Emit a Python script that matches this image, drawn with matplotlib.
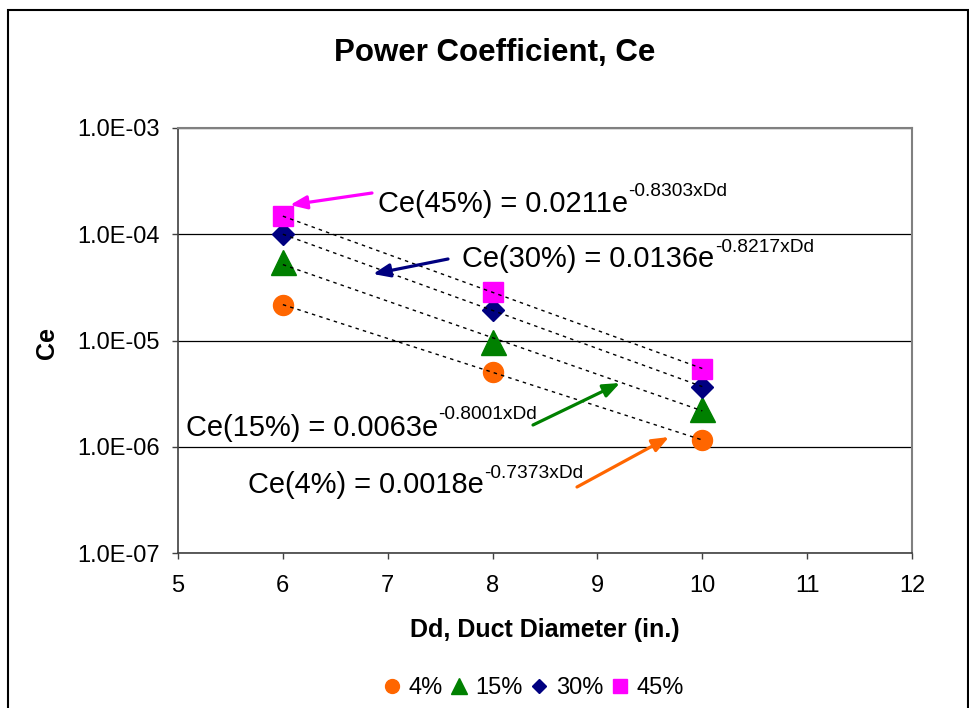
import numpy as np
import matplotlib
matplotlib.use("Agg")
import matplotlib.pyplot as plt
from matplotlib.lines import Line2D
from matplotlib.patches import Rectangle
from matplotlib.ticker import LogLocator, FuncFormatter, NullLocator

plt.rcParams['font.family'] = ['Liberation Sans', 'DejaVu Sans']

# ---- data ----
dd = [6, 8, 10]
series_names = ["4%", "15%", "30%", "45%"]
ce_4 = [2.18e-5, 5.0e-6, 1.16e-6]
ce_15 = [5.45e-5, 9.6e-6, 2.29e-6]
ce_30 = [1.0e-4, 1.92e-5, 3.68e-6]
ce_45 = [1.48e-4, 2.84e-5, 5.45e-6]
eq_main = ["Ce(4%) = 0.0018e", "Ce(15%) = 0.0063e", "Ce(30%) = 0.0136e", "Ce(45%) = 0.0211e"]
eq_exp = ["-0.7373xDd", "-0.8001xDd", "-0.8217xDd", "-0.8303xDd"]

W, H = 970, 708
fig = plt.figure(figsize=(W / 100, H / 100), dpi=100)
fig.patch.set_facecolor('white')

def fx(x):
    return x / W

def fy(y):
    return 1 - y / H

# chart border
fig.patches.append(Rectangle((fx(8), fy(718)), fx(968) - fx(8), fy(10) - fy(718),
                             transform=fig.transFigure, fill=False, edgecolor='black', lw=1.5))

ax = fig.add_axes([fx(178), fy(553), fx(912) - fx(178), fy(128) - fy(553)])
ax.set_yscale('log')
ax.set_xlim(5, 12)
ax.set_ylim(1e-7, 1e-3)

colors = ['#FF6600', '#008000', '#000080', '#FF00FF']
markers = ['o', '^', 'D', 's']
msizes = [14.4, 18, 11.2, 14.4]
leg_ms = [10, 11.5, 7.6, 9.6]
all_series = [ce_4, ce_15, ce_30, ce_45]

for ys, c, m, ms in zip(all_series, colors, markers, msizes):
    ax.plot(dd, ys, linestyle='none', marker=m, markersize=ms, color=c,
            markeredgecolor=c, zorder=3)
    k, b = np.polyfit(dd, np.log(ys), 1)
    xx = np.linspace(dd[0], dd[-1], 100)
    ax.plot(xx, np.exp(b + k * xx), color='black', lw=1.0,
            linestyle=(0, (2.5, 3.0)), zorder=4)

# axes styling
ax.yaxis.set_major_locator(LogLocator(base=10, numticks=10))
ax.yaxis.set_minor_locator(NullLocator())
ax.yaxis.set_major_formatter(FuncFormatter(lambda v, p: f"{v:.1E}"))
ax.set_xticks(range(5, 13))
ax.grid(axis='y', which='major', color='#000000', lw=0.9)
ax.grid(axis='x', visible=False)
ax.set_axisbelow(True)
for s in ['top', 'right']:
    ax.spines[s].set_color('#808080')
    ax.spines[s].set_linewidth(1.5)
for s in ['left', 'bottom']:
    ax.spines[s].set_color('#404040')
    ax.spines[s].set_linewidth(1.2)
ax.tick_params(axis='both', which='major', direction='out', length=4.5, width=1,
               color='#404040', labelsize=17)
ax.tick_params(axis='x', pad=11)
ax.tick_params(axis='y', pad=8.5)

ax.set_xlabel("Dd, Duct Diameter (in.)", fontsize=18, fontweight='bold')
ax.xaxis.label.set_va('baseline')
ax.xaxis.set_label_coords((544.5 - 178) / 734, -(637 - 553) / 425)
ax.set_ylabel("Ce", fontsize=18, fontweight='bold')
ax.yaxis.label.set_va('center')
ax.yaxis.set_label_coords((47 - 178) / 734, (553 - 343) / 425)

fig.text(fx(495), fy(61), "Power Coefficient, Ce", ha='center', va='baseline',
         fontsize=22.5, fontweight='bold')

# equations: (left, baseline, superscript baseline) in top-based pixels
eq_pos = [(248, 493, 478), (186, 436, 419), (462, 267, 252), (378, 212, 196.5)]
main_texts = []
for txt, (x, y, ys) in zip(eq_main, eq_pos):
    t = fig.text(fx(x), fy(y), txt, ha='left', va='baseline', fontsize=20.9)
    main_texts.append(t)

# arrows tail -> head (top-based pixels)
arrows = [((577, 487), (669, 437)), ((533, 425), (620, 383)),
          ((448, 259), (373, 274)), ((372, 193), (290, 205))]
for (tail, head), c in zip(arrows, colors):
    fig.add_artist(matplotlib.patches.FancyArrowPatch(
        (fx(tail[0]), fy(tail[1])), (fx(head[0]), fy(head[1])),
        transform=fig.transFigure, arrowstyle='-|>,head_length=0.5,head_width=0.2',
        mutation_scale=20, lw=2.3, color=c, shrinkA=0, shrinkB=0))

# legend
handles = [Line2D([], [], linestyle='none', marker=m, markersize=s, color=c,
                  markeredgecolor=c) for m, s, c in zip(markers, leg_ms, colors)]
fig.legend(handles, series_names, loc='center', bbox_to_anchor=(fx(533), fy(688)),
           ncol=4, frameon=False, fontsize=17, handlelength=0.8, handletextpad=0.3,
           columnspacing=0.3, borderaxespad=0)

fig.canvas.draw()
r = fig.canvas.get_renderer()
for t, sup, (x, y, ys) in zip(main_texts, eq_exp, eq_pos):
    bb = t.get_window_extent(renderer=r)
    fig.text(bb.x1 / W + 0.5 / W, fy(ys), sup, ha='left', va='baseline', fontsize=13.8)

fig.savefig("out.png", dpi=100)
